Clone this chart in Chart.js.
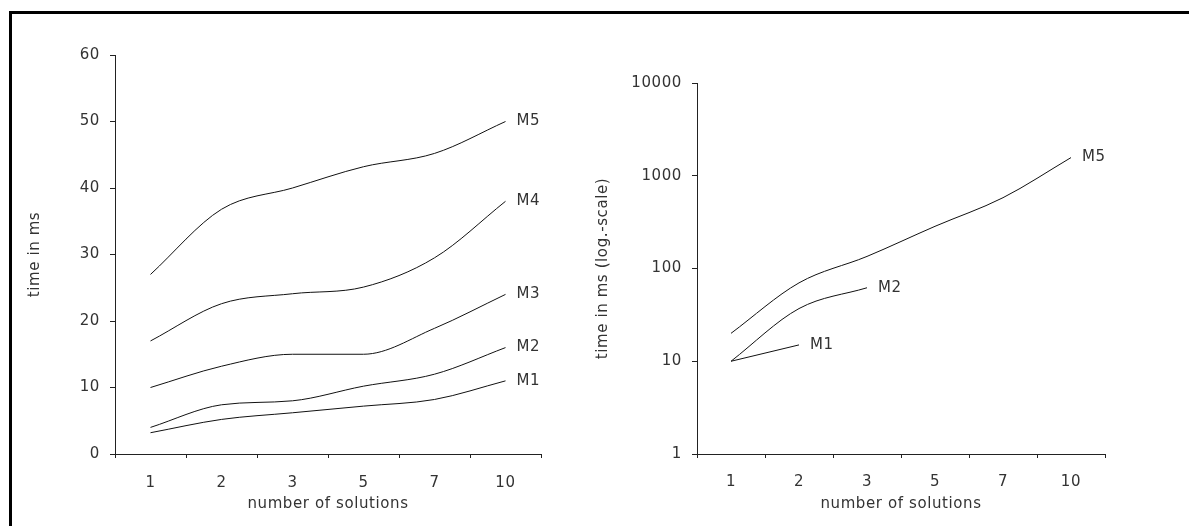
<!DOCTYPE html>
<html>
<head>
<meta charset="utf-8">
<script src="https://cdn.jsdelivr.net/npm/chart.js@4"></script>
<style>
  body { margin: 0; background: #fff; width: 1189px; height: 526px; overflow: hidden; position: relative; }
  .frame { position: absolute; left: 9px; top: 11px; right: -10px; bottom: -10px; border-top: 3px solid #000; border-left: 3px solid #000; }
  #chartLinear { position: absolute; left: 0; top: 0; }
  #chartLog { position: absolute; left: 590px; top: 0; }
</style>
</head>
<body>
<div class="frame"></div>
<canvas id="chartLinear" width="600" height="526"></canvas>
<canvas id="chartLog" width="599" height="526"></canvas>
<script>
// Datos
const categories = ['1', '2', '3', '5', '7', '10'];

// izquierda: escala lineal (ms)
const m1Linear = [3.2, 5.2, 6.2, 7.2, 8.2, 11];
const m2Linear = [4, 7.4, 8, 10.2, 12, 16];
const m3Linear = [10, 13.2, 15, 15, 18.9, 24];
const m4Linear = [17, 22.6, 24.1, 25.1, 29.5, 38];
const m5Linear = [27, 36.8, 40, 43.2, 45.2, 50];

// derecha: escala logarítmica (ms)
const m1Log = [10, 15, null, null, null, null];
const m2Log = [10, 37, 62, null, null, null];
const m5Log = [20, 70, 135, 285, 580, 1570];

const logTicks = [1, 10, 100, 1000, 10000];

const textColor = '#333';
const lineColor = '#111';
const fontFamily = '"DejaVu Sans", "Liberation Sans", Arial, sans-serif';

Chart.defaults.font.family = fontFamily;
Chart.defaults.font.size = 15;
Chart.defaults.color = textColor;
Chart.defaults.animation = false;

// espaciado de letras como en el original
const spacingPlugin = {
  id: 'spacing',
  beforeLayout(chart) { chart.ctx.letterSpacing = '0.6px'; },
  beforeDraw(chart) { chart.ctx.letterSpacing = '0.6px'; }
};

// etiquetas M1..M5 al final de cada línea
const endLabels = {
  id: 'endLabels',
  afterDatasetsDraw(chart) {
    const ctx = chart.ctx;
    ctx.save();
    ctx.font = '15px ' + fontFamily;
    ctx.fillStyle = textColor;
    ctx.textBaseline = 'middle';
    ctx.textAlign = 'left';
    chart.data.datasets.forEach((ds, i) => {
      const meta = chart.getDatasetMeta(i);
      let last = -1;
      ds.data.forEach((v, j) => { if (v !== null) last = j; });
      if (last < 0) return;
      const pt = meta.data[last];
      ctx.fillText(ds.label, pt.x + 11, pt.y);
    });
    ctx.restore();
  }
};

function makeDataset(label, data) {
  return {
    label: label,
    data: data,
    borderColor: lineColor,
    borderWidth: 1,
    pointRadius: 0,
    cubicInterpolationMode: 'monotone',
    fill: false,
    spanGaps: false
  };
}

function xScale(titlePad, tickPad) {
  return {
    type: 'category',
    offset: true,
    grid: { display: true, offset: true, drawOnChartArea: false, drawTicks: true, tickLength: 4, color: '#222' },
    border: { display: true, color: '#222', width: 1 },
    ticks: { padding: tickPad, color: textColor, maxRotation: 0 },
    title: { display: true, text: 'number of solutions', color: textColor, padding: { top: 0, bottom: titlePad } },
    afterFit(scale) { scale.height = 72; }
  };
}

// Gráfico lineal
new Chart(document.getElementById('chartLinear').getContext('2d'), {
  type: 'line',
  data: {
    labels: categories,
    datasets: [
      makeDataset('M1', m1Linear),
      makeDataset('M2', m2Linear),
      makeDataset('M3', m3Linear),
      makeDataset('M4', m4Linear),
      makeDataset('M5', m5Linear)
    ]
  },
  options: {
    responsive: false,
    layout: { padding: { left: 0, top: 55, right: 59, bottom: 0 } },
    plugins: { legend: { display: false }, tooltip: { enabled: false } },
    scales: {
      x: xScale(13, 16),
      y: {
        min: 0,
        max: 60,
        grid: { display: true, drawOnChartArea: false, drawTicks: true, tickLength: 5, color: '#222' },
        border: { display: true, color: '#222', width: 1 },
        ticks: { stepSize: 10, padding: 10, color: textColor },
        title: { display: true, text: 'time in ms', color: textColor, padding: { top: 26, bottom: 0 } },
        afterFit(scale) { scale.width = 115; }
      }
    }
  },
  plugins: [spacingPlugin, endLabels]
});

// Gráfico logarítmico
new Chart(document.getElementById('chartLog').getContext('2d'), {
  type: 'line',
  data: {
    labels: categories,
    datasets: [
      makeDataset('M1', m1Log),
      makeDataset('M2', m2Log),
      makeDataset('M5', m5Log)
    ]
  },
  options: {
    responsive: false,
    layout: { padding: { left: 0, top: 83, right: 84, bottom: 0 } },
    plugins: { legend: { display: false }, tooltip: { enabled: false } },
    scales: {
      x: xScale(13, 15),
      y: {
        type: 'logarithmic',
        min: 1,
        max: 10000,
        grid: { display: true, drawOnChartArea: false, drawTicks: true, tickLength: 5, color: '#222' },
        border: { display: true, color: '#222', width: 1 },
        ticks: { padding: 10, color: textColor, callback: (v) => String(v) },
        title: { display: true, text: 'time in ms (log.-scale)', color: textColor, padding: { top: 4, bottom: 0 } },
        afterBuildTicks(scale) { scale.ticks = logTicks.map(v => ({ value: v })); },
        afterFit(scale) { scale.width = 107; }
      }
    }
  },
  plugins: [spacingPlugin, endLabels]
});
</script>
</body>
</html>
